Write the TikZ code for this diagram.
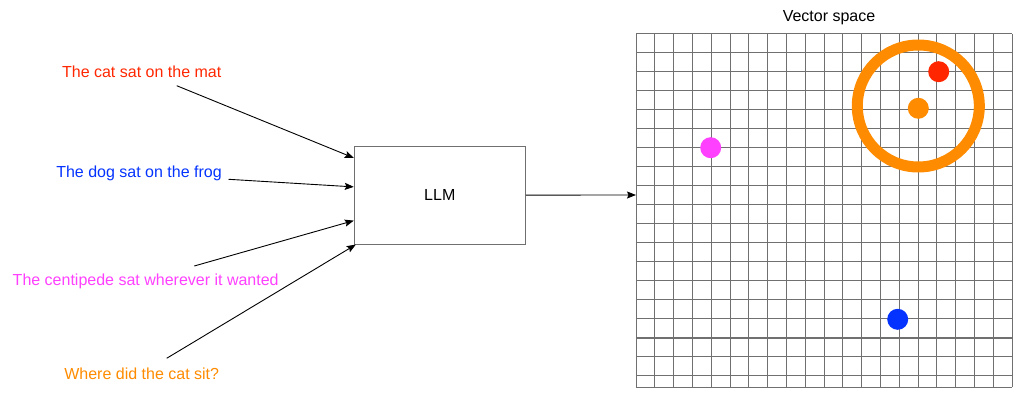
\documentclass[tikz,border=0pt]{standalone}
\usepackage{fontspec}
\setmainfont{Liberation Sans}
\usetikzlibrary{arrows.meta,calc,positioning}

\definecolor{catred}{RGB}{255,38,0}
\definecolor{dogblue}{RGB}{4,51,255}
\definecolor{pedepink}{RGB}{255,64,255}
\definecolor{sitorange}{RGB}{255,139,0}
\definecolor{gridgray}{RGB}{112,112,112}

\tikzset{
	sentence/.style={inner sep=0pt,font=\fontsize{16}{19}\selectfont},
	model/.style={draw=gridgray,line width=1pt,minimum width=171pt,minimum height=98pt,font=\fontsize{16}{19}\selectfont},
	feed/.style={-{Stealth[length=9pt,width=7pt,inset=1.5pt]},line width=0.9pt},
	vec/.style={circle,inner sep=0pt,minimum size=21pt}
}

\begin{document}
\begin{tikzpicture}[x=1pt,y=1pt]
	\useasboundingbox (0,0) rectangle (1035,410);
	% vector space grid
	\foreach \i in {0,...,20}
		\draw[gridgray,line width=1pt] (636+\i*18.8,23) -- (636+\i*18.8,376);
	\foreach \j in {0,...,18}
		\draw[gridgray,line width=1pt] (636,376-\j*18.97) -- (1012,376-\j*18.97);
	\draw[gridgray,line width=1pt] (636,23) -- (1012,23);
	\draw[gridgray,line width=2pt] (636,72.5) -- (1012,72.5);
	\coordinate (space) at (636,215);
	\node[sentence] (title) at (829,392.5) {Vector space};

	\node[vec,fill=pedepink] (pede) at (710.7,262.3) {};
	\node[vec,fill=catred] (cat) at (938.7,338.3) {};
	\node[vec,fill=sitorange] (sit) at (918.3,301.7) {};
	\node[vec,fill=dogblue] (dog) at (897.7,90.7) {};
	\draw[sitorange,line width=11pt] (918.3,304) circle (61);

	% model
	\node[model] (llm) at (439.8,214.9) {LLM};
	\draw[feed] (llm.east) -- (space);

	% inputs
	\node[sentence,text=catred] (s_cat) at (141.7,338.3) {The cat sat on the mat};
	\node[sentence,text=dogblue] (s_dog) at (139,236.7) {The dog sat on the frog};
	\node[sentence,text=pedepink] (s_pede) at (145.7,128.5) {The centipede sat wherever it wanted};
	\node[sentence,text=sitorange] (s_sit) at (141.7,36.3) {Where did the cat sit?};

	\draw[feed] ([shift={(35,-14)}]s_cat.center) -- ([yshift=-12.3]llm.north west);
	\draw[feed] ([shift={(6.6,-6)}]s_dog.east) -- ([yshift=-41.3]llm.north west);
	\draw[feed] ([shift={(48.6,15.5)}]s_pede.center) -- ([yshift=-75]llm.north west);
	\draw[feed] ([shift={(25,15.4)}]s_sit.center) -- ([xshift=2]llm.south west);
\end{tikzpicture}
\end{document}
